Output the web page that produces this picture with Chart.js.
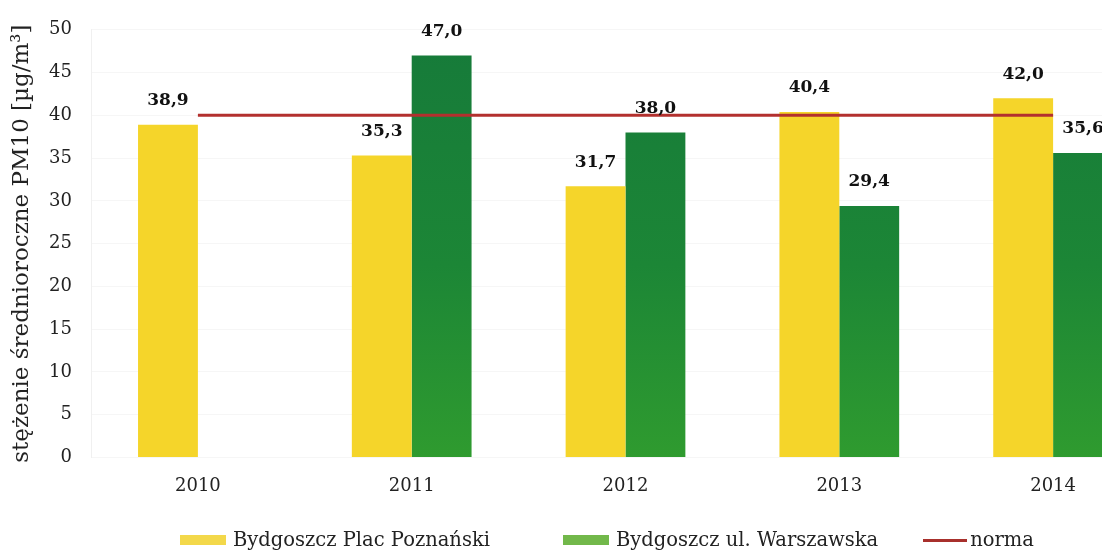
<!DOCTYPE html>
<html lang="pl">
<head>
    <meta charset="UTF-8">
    <title>PM10 Bydgoszcz</title>
    <script src="https://cdn.jsdelivr.net/npm/chart.js"></script>
    <style>
        body { background: #fff; margin: 0; padding: 0; overflow: hidden; }
        #wrap { width: 1165px; height: 552px; position: relative; }
        #legend { position: absolute; left: 180px; top: 528px; display: flex; align-items: center;
                  font-family: 'DejaVu Serif', 'Liberation Serif', serif; font-size: 19.5px; color: #222; line-height: 24px; }
        #legend .item { display: flex; align-items: center; }
        #legend .box { width: 46px; height: 10px; margin-right: 7px; }
        #legend .ln { width: 44px; height: 3px; margin-right: 3px; }
    </style>
</head>
<body>
<div id="wrap">
    <canvas id="pmChart"></canvas>
    <div id="legend"></div>
</div>
<script>
const years = ['2010', '2011', '2012', '2013', '2014'];
const placPoznanski = [38.9, 35.3, 31.7, 40.4, 42.0];
const ulWarszawska = [null, 47.0, 38.0, 29.4, 35.6];
const norma = [40, 40, 40, 40, 40];
const yTicks = [0, 5, 10, 15, 20, 25, 30, 35, 40, 45, 50];

const serif = "'DejaVu Serif', 'Liberation Serif', serif";

function greenFill(ctx) {
    const area = ctx.chart.chartArea;
    if (!area) return '#1f8a36';
    const g = ctx.chart.ctx.createLinearGradient(0, area.top, 0, area.bottom);
    g.addColorStop(0, '#167a3a');
    g.addColorStop(0.55, '#1c8636');
    g.addColorStop(1, '#2f9b2f');
    return g;
}

// etykiety wartości nad słupkami
const valueLabels = {
    id: 'valueLabels',
    afterDraw(chart) {
        const c = chart.ctx;
        c.save();
        c.font = 'bold 17px ' + serif;
        c.fillStyle = '#111';
        c.textAlign = 'center';
        c.textBaseline = 'middle';
        chart.data.datasets.forEach((ds, i) => {
            if (ds.type === 'line') return;
            chart.getDatasetMeta(i).data.forEach((bar, j) => {
                const v = ds.data[j];
                if (v == null) return;
                c.fillText(v.toFixed(1).replace('.', ','), bar.x, bar.y - 24);
            });
        });
        c.restore();
    }
};

const chart = new Chart(document.getElementById('pmChart').getContext('2d'), {
    data: {
        labels: years,
        datasets: [
            { type: 'bar', label: 'Bydgoszcz Plac Poznański', data: placPoznanski, backgroundColor: '#f5d52a', order: 1,
              barPercentage: 1, categoryPercentage: 0.56, legendColor: '#f3d84a', legendGap: 73 },
            { type: 'bar', label: 'Bydgoszcz ul. Warszawska', data: ulWarszawska, backgroundColor: greenFill, order: 1,
              barPercentage: 1, categoryPercentage: 0.56, legendColor: '#72b84a', legendGap: 45 },
            { type: 'line', label: 'norma', data: norma, borderColor: '#b3302e', borderWidth: 3, pointRadius: 0, fill: false, order: 0,
              legendColor: '#a8302c', legendGap: 0 }
        ]
    },
    options: {
        responsive: true,
        maintainAspectRatio: false,
        animation: false,
        layout: { padding: { left: 8, top: 5, right: 5, bottom: 45 } },
        plugins: {
            tooltip: { enabled: false },
            legend: { display: false }
        },
        scales: {
            x: {
                grid: { display: false },
                border: { display: false },
                ticks: { font: { family: serif, size: 18 }, color: '#222', padding: 10 }
            },
            y: {
                min: 0,
                max: 50,
                afterBuildTicks(scale) { scale.ticks = yTicks.map(v => ({ value: v })); },
                afterFit(scale) { scale.width = 83; },
                grid: { color: 'rgba(0,0,0,0.035)', drawTicks: false },
                border: { display: true, color: 'rgba(0,0,0,0.06)' },
                ticks: { font: { family: serif, size: 18 }, color: '#222', padding: 19 },
                title: {
                    display: true,
                    text: 'stężenie średnioroczne PM10 [µg/m³]',
                    font: { family: serif, size: 23 },
                    color: '#222',
                    padding: { top: 0, bottom: 0 }
                }
            }
        }
    },
    plugins: [valueLabels]
});

// legenda pod wykresem
const legend = document.getElementById('legend');
chart.data.datasets.forEach(ds => {
    const item = document.createElement('div');
    item.className = 'item';
    item.style.marginRight = ds.legendGap + 'px';
    const mark = document.createElement('span');
    mark.className = ds.type === 'line' ? 'ln' : 'box';
    mark.style.background = ds.legendColor;
    const txt = document.createElement('span');
    txt.textContent = ds.label;
    item.appendChild(mark);
    item.appendChild(txt);
    legend.appendChild(item);
});
</script>
</body>
</html>
